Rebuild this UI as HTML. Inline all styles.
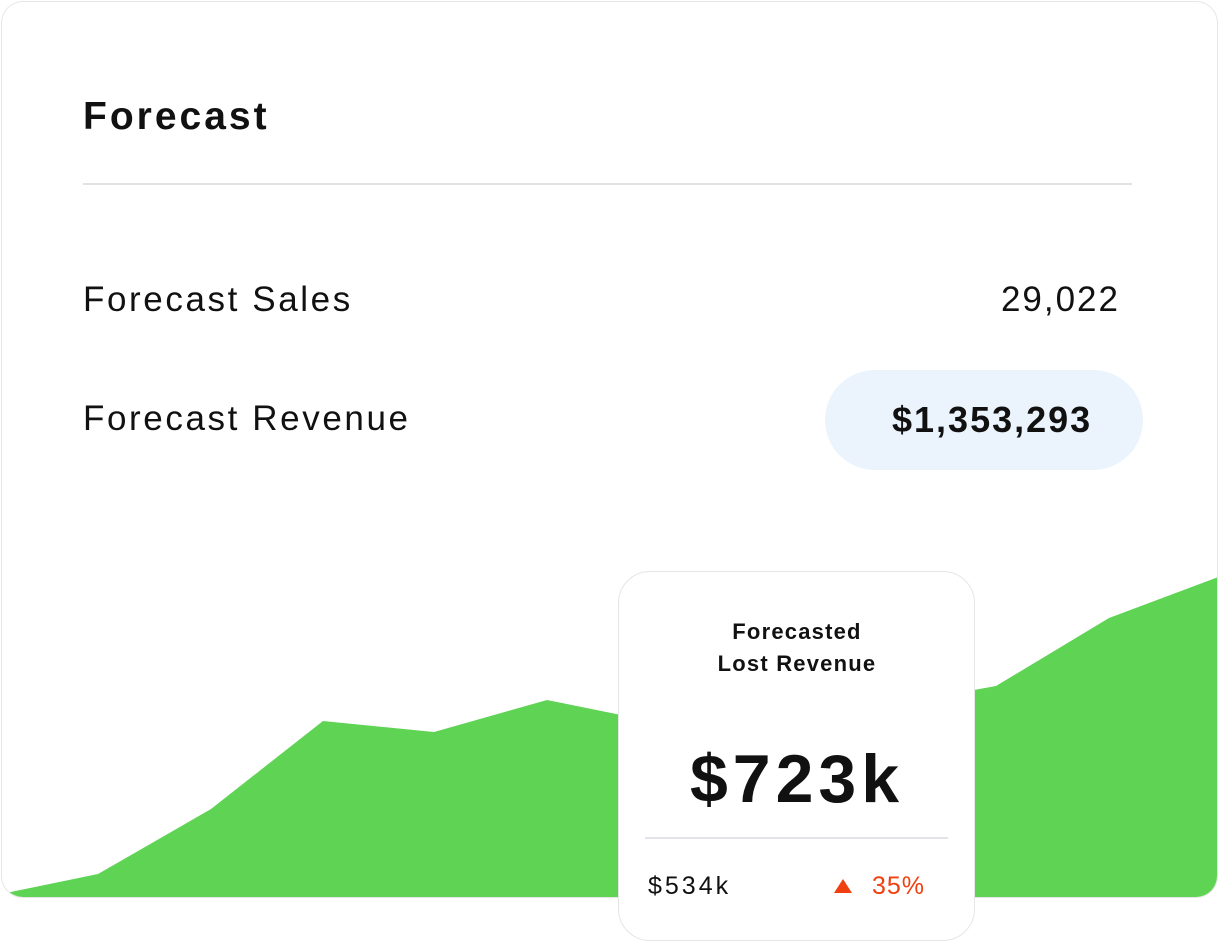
<!DOCTYPE html>
<html><head><style>
body{margin:0;width:1220px;height:943px;background:#fff;font-family:"Liberation Sans",sans-serif;position:relative;overflow:hidden;color:#111}
.card{position:absolute;left:1px;top:1px;width:1215px;height:895px;border:1.5px solid #e6e6e6;border-radius:22px;overflow:hidden;background:#fff}
.t{position:absolute;white-space:nowrap}
</style></head><body>
<div class="card">
<svg width="1220" height="900" style="position:absolute;left:-1px;top:-1px">
<polygon fill="#5fd354" points="0,893 97,873 210,808 322,720 433,731 546,699 640,718 940,695 995,685 1108,617 1220,575 1220,900 0,900"/>
</svg>
</div>
<div class="t" style="left:83px;top:95px;font-size:39px;font-weight:bold;letter-spacing:3px">Forecast</div>
<div style="position:absolute;left:83px;top:183px;width:1049px;height:2px;background:#e2e2e2"></div>
<div class="t" style="left:83px;top:280px;font-size:35px;letter-spacing:2.6px">Forecast Sales</div>
<div class="t" style="right:100px;top:280px;font-size:35px;letter-spacing:2px">29,022</div>
<div class="t" style="left:83px;top:399px;font-size:35px;letter-spacing:2.6px">Forecast Revenue</div>
<div style="position:absolute;left:825px;top:370px;width:318px;height:100px;border-radius:50px;background:#ebf4fc"></div>
<div class="t" style="left:892px;top:399px;font-size:36px;font-weight:bold;letter-spacing:2px">$1,353,293</div>
<div style="position:absolute;left:618px;top:571px;width:355px;height:368px;border:1.5px solid #e6e6e6;border-radius:32px;background:#fff"></div>
<div class="t" style="left:618px;width:358px;text-align:center;top:616px;font-size:22px;font-weight:bold;line-height:32px;letter-spacing:1.2px">Forecasted<br>Lost Revenue</div>
<div class="t" style="left:618px;width:358px;text-align:center;top:740px;font-size:68px;font-weight:bold;letter-spacing:5px">$723k</div>
<div style="position:absolute;left:645px;top:837px;width:303px;height:2px;background:#e2e4ea"></div>
<div class="t" style="left:648px;top:872px;font-size:25px;letter-spacing:3px">$534k</div>
<div style="position:absolute;left:834px;top:879px;width:0;height:0;border-left:9px solid transparent;border-right:9px solid transparent;border-bottom:14px solid #f0400f"></div>
<div class="t" style="left:872px;top:872px;font-size:25px;color:#f0400f;letter-spacing:1px">35%</div>
</body></html>
